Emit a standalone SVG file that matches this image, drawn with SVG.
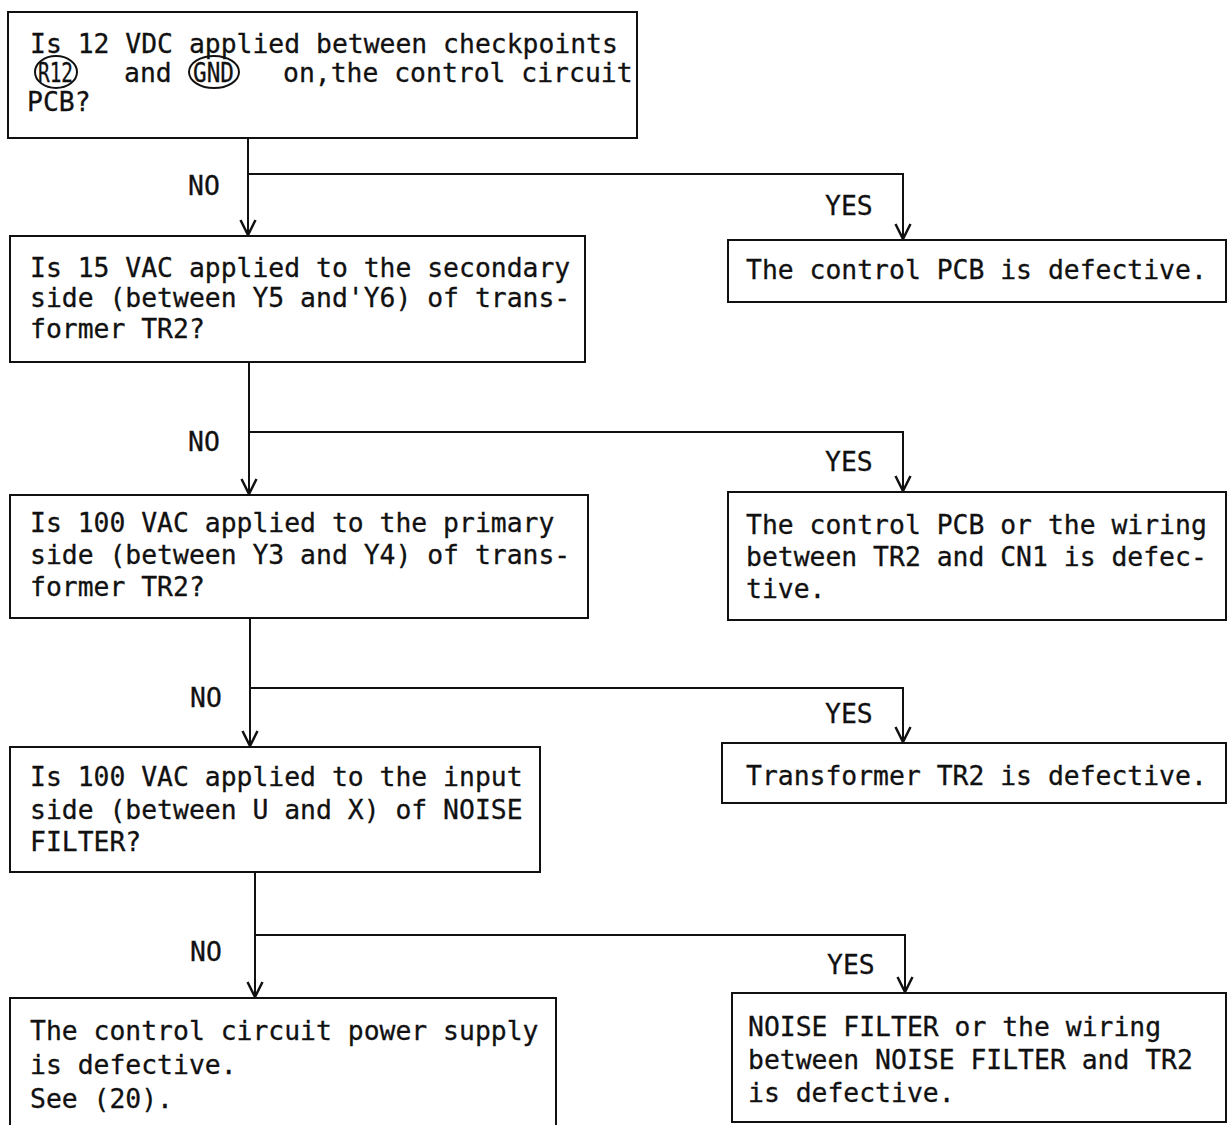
<svg xmlns="http://www.w3.org/2000/svg" width="1228" height="1125" viewBox="0 0 1228 1125">
  <style>
    .box { fill: #fff; stroke: #111; stroke-width: 2; }
    .t { font-family: "DejaVu Sans Mono", "Liberation Mono", monospace; font-size: 26.4px; fill: #111; stroke: #111; stroke-width: 0.3; }
    .wire { fill: none; stroke: #111; stroke-width: 2; }
    .ring { fill: none; stroke: #111; stroke-width: 2; }
  </style>
  <defs>
    <marker id="arrow" markerUnits="userSpaceOnUse" markerWidth="20" markerHeight="20" refX="0" refY="0" viewBox="-14 -8 16 16" orient="auto" overflow="visible">
      <path d="M-12,-6 L0,0 L-12,6" fill="none" stroke="#111" stroke-width="2"/>
    </marker>
  </defs>
  <rect width="1228" height="1125" fill="#fff"/>

  <!-- connectors -->
  <g id="connectors">
    <path class="wire" d="M248,138 V235" marker-end="url(#arrow)"/>
    <path class="wire" d="M248,174 H903 V239" marker-end="url(#arrow)"/>
    <path class="wire" d="M249,362 V494" marker-end="url(#arrow)"/>
    <path class="wire" d="M249,432 H903 V491" marker-end="url(#arrow)"/>
    <path class="wire" d="M250,618 V746" marker-end="url(#arrow)"/>
    <path class="wire" d="M250,688 H903 V742" marker-end="url(#arrow)"/>
    <path class="wire" d="M255,872 V997" marker-end="url(#arrow)"/>
    <path class="wire" d="M255,935 H905 V992" marker-end="url(#arrow)"/>
    <text class="t" x="188" y="195">NO</text>
    <text class="t" x="825" y="215">YES</text>
    <text class="t" x="188" y="451">NO</text>
    <text class="t" x="825" y="471">YES</text>
    <text class="t" x="190" y="707">NO</text>
    <text class="t" x="825" y="723">YES</text>
    <text class="t" x="190" y="961">NO</text>
    <text class="t" x="827" y="974">YES</text>
  </g>

  <!-- question 1 -->
  <g id="q1">
    <rect class="box" x="8" y="12" width="629" height="126"/>
    <text class="t" x="30" y="53">Is 12 VDC applied between checkpoints</text>
    <ellipse class="ring" cx="56" cy="72" rx="21" ry="16"/>
    <text class="t" x="38" y="82" textLength="35" lengthAdjust="spacingAndGlyphs">R12</text>
    <text class="t" x="124" y="82">and</text>
    <ellipse class="ring" cx="214" cy="72" rx="25" ry="16"/>
    <text class="t" x="193" y="82" textLength="41" lengthAdjust="spacingAndGlyphs">GND</text>
    <text class="t" x="283" y="82">on,the control circuit</text>
    <text class="t" x="27" y="111">PCB?</text>
  </g>

  <!-- result 1 -->
  <g id="r1">
    <rect class="box" x="728" y="240" width="498" height="62"/>
    <text class="t" x="746" y="279">The control PCB is defective.</text>
  </g>

  <!-- question 2 -->
  <g id="q2">
    <rect class="box" x="10" y="236" width="575" height="126"/>
    <text class="t" x="30" y="277">Is 15 VAC applied to the secondary</text>
    <text class="t" x="30" y="307">side (between Y5 and'Y6) of trans-</text>
    <text class="t" x="30" y="338">former TR2?</text>
  </g>

  <!-- result 2 -->
  <g id="r2">
    <rect class="box" x="728" y="492" width="498" height="128"/>
    <text class="t" x="746" y="534">The control PCB or the wiring</text>
    <text class="t" x="746" y="566">between TR2 and CN1 is defec-</text>
    <text class="t" x="746" y="598">tive.</text>
  </g>

  <!-- question 3 -->
  <g id="q3">
    <rect class="box" x="10" y="495" width="578" height="123"/>
    <text class="t" x="30" y="532">Is 100 VAC applied to the primary</text>
    <text class="t" x="30" y="564">side (between Y3 and Y4) of trans-</text>
    <text class="t" x="30" y="596">former TR2?</text>
  </g>

  <!-- result 3 -->
  <g id="r3">
    <rect class="box" x="722" y="743" width="504" height="60"/>
    <text class="t" x="746" y="785">Transformer TR2 is defective.</text>
  </g>

  <!-- question 4 -->
  <g id="q4">
    <rect class="box" x="10" y="747" width="530" height="125"/>
    <text class="t" x="30" y="786">Is 100 VAC applied to the input</text>
    <text class="t" x="30" y="819">side (between U and X) of NOISE</text>
    <text class="t" x="30" y="851">FILTER?</text>
  </g>

  <!-- result 4 -->
  <g id="r4">
    <rect class="box" x="732" y="993" width="494" height="129"/>
    <text class="t" x="748" y="1036">NOISE FILTER or the wiring</text>
    <text class="t" x="748" y="1069">between NOISE FILTER and TR2</text>
    <text class="t" x="748" y="1102">is defective.</text>
  </g>

  <!-- final outcome -->
  <g id="q5">
    <rect class="box" x="10" y="998" width="546" height="140"/>
    <text class="t" x="30" y="1040">The control circuit power supply</text>
    <text class="t" x="30" y="1074">is defective.</text>
    <text class="t" x="30" y="1108">See (20).</text>
  </g>
</svg>
